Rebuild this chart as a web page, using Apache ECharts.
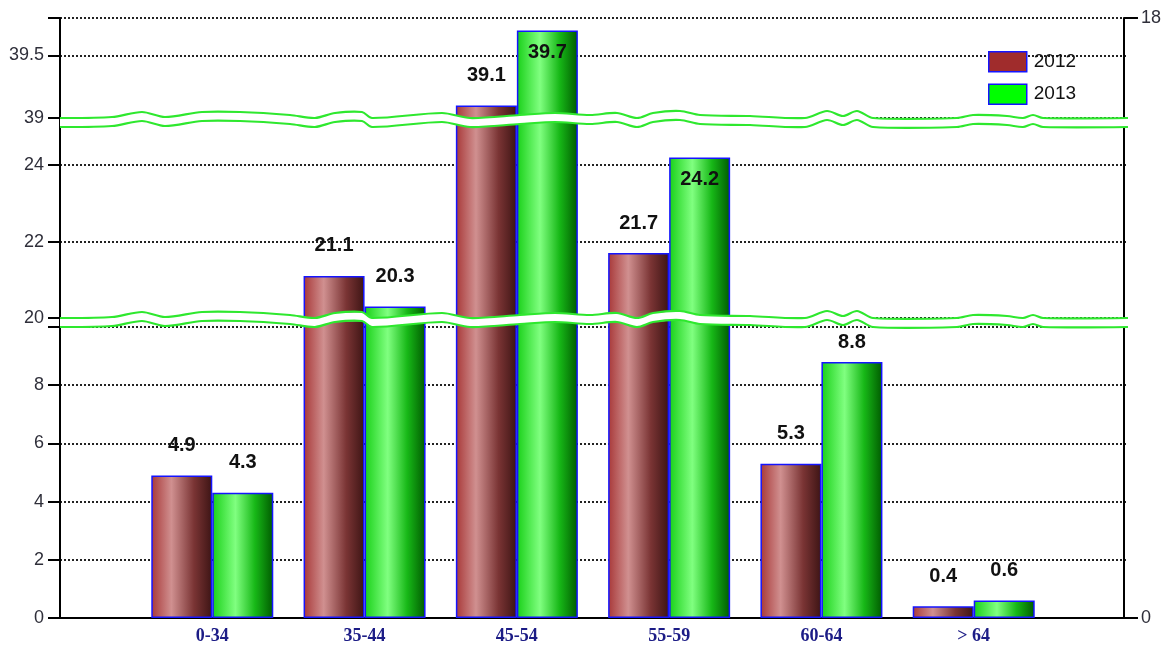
<!DOCTYPE html>
<html>
<head>
<meta charset="utf-8">
<script src="https://cdn.jsdelivr.net/npm/echarts@6/dist/echarts.min.js"></script>
<style>
html,body{margin:0;padding:0;background:#fff;}
#chart{width:1164px;height:647px;}
</style>
</head>
<body>
<div id="chart"></div>
<script>
// ---- data ----
const categories = ['0-34', '35-44', '45-54', '55-59', '60-64', '> 64'];
const series2012 = [4.9, 21.1, 39.1, 21.7, 5.3, 0.4];
const series2013 = [4.3, 20.3, 39.7, 24.2, 8.8, 0.6];
const leftTickLabels = [0, 2, 4, 6, 8, 20, 22, 24, 39, 39.5];
const rightAxisMin = 0;
const rightAxisMax = 18;
const seriesNames = ['2012', '2013'];

// ---- broken-axis segments (value ranges + pixel layout) ----
const segs = [
  { min: 0,  cap: 10,   interval: 2,   bottomPx: 618, capPx: 327, gridTop: 318 },
  { min: 20, cap: 25,   interval: 2,   bottomPx: 318, capPx: 127, gridTop: 118 },
  { min: 39, cap: 39.8, interval: 0.5, bottomPx: 118, capPx: 18,  gridTop: 18 }
];
segs.forEach(s => {
  s.ppu = (s.bottomPx - s.capPx) / (s.cap - s.min);
  s.max = s.cap + (s.capPx - s.gridTop) / s.ppu;
});

const GRID_LEFT = 60, GRID_RIGHT = 38, W = 1164, H = 647;
const narrow = "'Liberation Sans Narrow', 'Arial Narrow', 'Liberation Sans', Arial, sans-serif";

const grad2012 = new echarts.graphic.LinearGradient(0, 0, 1, 0, [
  { offset: 0, color: '#a83838' },
  { offset: 0.33, color: '#d09090' },
  { offset: 0.7, color: '#7a3434' },
  { offset: 1, color: '#3c1414' }
]);
const grad2013 = new echarts.graphic.LinearGradient(0, 0, 1, 0, [
  { offset: 0, color: '#18d018' },
  { offset: 0.38, color: '#80ff80' },
  { offset: 0.7, color: '#17b817' },
  { offset: 1, color: '#005a00' }
]);
const colors = { '2012': grad2012, '2013': grad2013 };
const legendColors = { '2012': '#a02c2c', '2013': '#00ff00' };

const grids = [], xAxes = [], yAxes = [], series = [];

segs.forEach((s, k) => {
  grids.push({ left: GRID_LEFT, right: GRID_RIGHT, top: s.gridTop, height: s.bottomPx - s.gridTop });
  xAxes.push({
    gridIndex: k, type: 'value', min: 0, max: categories.length + 1, interval: 1,
    show: k === 0,
    axisLine: { show: true, lineStyle: { color: '#000', width: 2 } },
    axisTick: { show: false },
    splitLine: { show: false },
    axisLabel: {
      margin: 9,
      formatter: v => categories[v - 1] || '',
      fontFamily: "'Liberation Serif', 'Times New Roman', serif",
      fontWeight: 'bold', fontSize: 18, color: '#1c1c86'
    }
  });
  yAxes.push({
    gridIndex: k, type: 'value', min: s.min, max: s.max, interval: s.interval,
    axisLine: { show: false },
    axisTick: { show: true, length: 12, lineStyle: { color: '#000', width: 2 } },
    splitLine: { show: true, lineStyle: { color: '#222', width: 2, type: [2, 2] } },
    axisLabel: {
      margin: 16,
      formatter: v => leftTickLabels.indexOf(v) >= 0 ? String(v) : '',
      fontFamily: narrow, fontSize: 18, color: '#2f2f3a'
    }
  });
  [series2012, series2013].forEach((vals, j) => {
    const name = seriesNames[j];
    series.push({
      type: 'bar', name: name, xAxisIndex: k, yAxisIndex: k,
      barWidth: 61, barGap: '0%', clip: true,
      itemStyle: { color: colors[name], borderColor: '#1414ff', borderWidth: 1.5 },
      label: {
        show: true, position: 'top', distance: 20,
        fontFamily: narrow, fontWeight: 'bold', fontSize: 20, color: '#111',
        formatter: p => (p.value[1] >= s.min && p.value[1] <= s.cap) ? p.value[1].toFixed(1) : ''
      },
      data: vals.map((v, i) => {
        const inSeg = v >= s.min && v <= s.cap;
        const room = (s.cap - v) * s.ppu;
        if (inSeg && room < 34) return { value: [i + 1, v], label: { position: 'insideTop', distance: 12 } };
        if (inSeg && room < 50) return { value: [i + 1, v], label: { distance: 9 } };
        return { value: [i + 1, v] };
      })
    });
  });
});

// full-height grid for continuous left axis line and right axis
const fullIdx = grids.length;
grids.push({ left: GRID_LEFT, right: GRID_RIGHT, top: segs[2].gridTop, height: segs[0].bottomPx - segs[2].gridTop });
xAxes.push({ gridIndex: fullIdx, type: 'value', min: 0, max: 1, show: false });
yAxes.push({
  gridIndex: fullIdx, type: 'value', position: 'left', min: 0, max: 1,
  axisLine: { show: true, lineStyle: { color: '#000', width: 2 } },
  axisTick: { show: false }, axisLabel: { show: false }, splitLine: { show: false }
});
yAxes.push({
  gridIndex: fullIdx, type: 'value', position: 'right', min: rightAxisMin, max: rightAxisMax, interval: rightAxisMax - rightAxisMin,
  axisLine: { show: true, lineStyle: { color: '#000', width: 2 } },
  axisTick: { show: true, length: 14, lineStyle: { color: '#000', width: 2 } },
  splitLine: { show: false },
  axisLabel: { margin: 17, fontFamily: narrow, fontSize: 18, color: '#2f2f3a' }
});

// ---- axis-break decoration (wavy double line) ----
const wave = [[60,0],[112,-1],[142,-6],[165,-1],[202,-6],[240,-6],[290,-3],[315,0],[335,-5],[362,-6],[372,0],
  [442,-5],[470,0],[520,-3],[555,-5],[590,-3],[617,-5],[637,0],[653,-5],[680,-7],[700,-3],[750,-2],[805,0],
  [827,-7],[843,-2],[857,-7],[873,0],[957,0],[973,-3],[1007,-2],[1023,0],[1033,-3],[1043,0],[1128,0]];
const graphics = [];
[[segs[1].bottomPx, segs[0].capPx], [segs[2].bottomPx, segs[1].capPx]].forEach(([yTop, yBot]) => {
  const topPts = wave.map(([x, d]) => [x, yTop + d]);
  const botPts = wave.map(([x, d]) => [x, yBot + d]);
  graphics.push({
    type: 'polygon', z: 100, silent: true,
    shape: { points: topPts.concat(botPts.slice().reverse()), smooth: 0 },
    style: { fill: '#fff', stroke: null }
  });
  graphics.push({ type: 'polyline', z: 101, silent: true, shape: { points: topPts, smooth: 0.3 }, style: { stroke: '#2ee82e', lineWidth: 2.2, fill: null } });
  graphics.push({ type: 'polyline', z: 101, silent: true, shape: { points: botPts, smooth: 0.3 }, style: { stroke: '#2ee82e', lineWidth: 2.2, fill: null } });
});

const chart = echarts.init(document.getElementById('chart'), null, { renderer: 'canvas', width: W, height: H });
chart.setOption({
  animation: false,
  backgroundColor: '#fff',
  grid: grids,
  xAxis: xAxes,
  yAxis: yAxes,
  legend: {
    left: 988, top: 51, orient: 'vertical', icon: 'rect', padding: 0,
    itemWidth: 38, itemHeight: 20, itemGap: 11,
    textStyle: { fontFamily: narrow, fontSize: 19, color: '#111', padding: [0, 0, 0, 2] },
    data: seriesNames.map(n => ({ name: n, itemStyle: { color: legendColors[n], borderColor: '#1414ff', borderWidth: 1.5 } }))
  },
  graphic: graphics,
  series: series
});
</script>
</body>
</html>
